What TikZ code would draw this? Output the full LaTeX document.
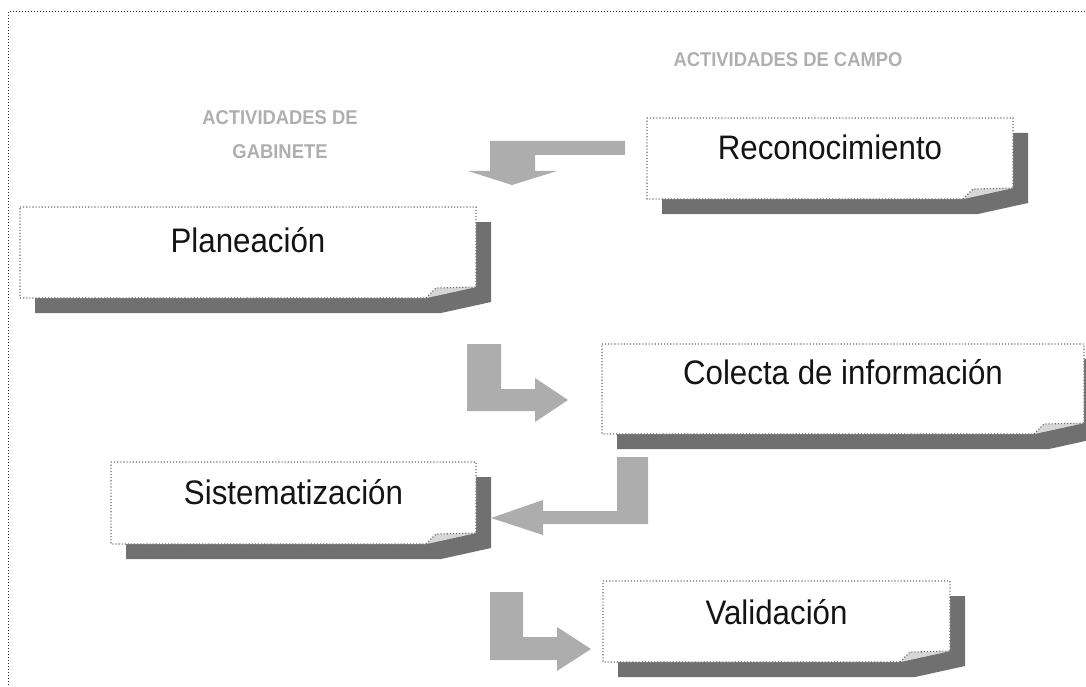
\documentclass[tikz,border=0pt]{standalone}
\usepackage{fontspec}
\setmainfont{Liberation Sans}[FakeStretch=0.92]
\usepackage{tikz}
\usetikzlibrary{calc}
\definecolor{sombra}{RGB}{112,112,112}
\definecolor{flechagris}{RGB}{173,173,173}
\definecolor{titulogris}{RGB}{175,175,175}
\definecolor{dobles}{RGB}{215,215,215}
\definecolor{borde}{RGB}{105,105,105}
\definecolor{letra}{RGB}{20,20,20}

\tikzset{
	sombrabox/.style={fill=sombra},
	hojabox/.style={fill=white,draw=borde,line width=1.1pt,dotted},
	doblez/.style={fill=dobles,draw=borde,line width=1.1pt,dotted},
	flecha/.style={fill=flechagris},
	texto/.style={text=letra,font=\fontsize{34}{38}\selectfont},
	titulo/.style={text=titulogris,font=\bfseries\fontsize{20}{34}\selectfont,align=center}
}

% #1 nombre, #2 izq, #3 arriba, #4 der, #5 abajo, #6 altura del texto, #7 texto
\newcommand{\tarjeta}[7]{%
	\fill[sombrabox] (#2+15,#3+15) -- (#4+15,#3+15) -- (#4+15,#5+4) -- (#4-35,#5+15) -- (#2+15,#5+15) -- cycle;
	\draw[hojabox] (#2,#3) -- (#4,#3) -- (#4,#5-11) -- (#4-50,#5) -- (#2,#5) -- cycle;
	\draw[doblez] (#4-50,#5) -- (#4-40,#5-10) -- (#4,#5-11);
	\node[texto] (#1) at ({(#2+#4)/2},#6) {#7};
}

\begin{document}
\begin{tikzpicture}[x=1pt,y=-1pt]
	\useasboundingbox (0,0) rectangle (1086,687);
	\draw[black!85,line width=1pt,dotted] (8,700) -- (8,12) -- (1100,12);
	
	\node[titulo] (campo) at (788,60) {ACTIVIDADES DE CAMPO};
	\node[titulo] (gabinete) at (280,135) {ACTIVIDADES DE\\GABINETE};
	
	\tarjeta{recon}{647}{118}{1013}{199}{147}{Reconocimiento}
	\tarjeta{plan}{20}{207}{476}{298}{240}{Planeación}
	\tarjeta{colecta}{602}{344}{1084}{434}{372}{Colecta de información}
	\tarjeta{sistem}{111}{462}{476}{544}{492}{Sistematización}
	\tarjeta{valid}{603}{581}{950}{662}{612}{Validación}
	
	\fill[flecha] (625,141) -- (490,141) -- (490,171) -- (468,171) -- (512,185) -- (557,171) -- (535,171) -- (535,155) -- (625,155) -- cycle;
	\fill[flecha] (467,344) -- (501,344) -- (501,389) -- (535,389) -- (535,378) -- (568,400) -- (535,422) -- (535,411) -- (467,411) -- cycle;
	\fill[flecha] (648,457) -- (617,457) -- (617,511) -- (543,511) -- (543,500) -- (491,518) -- (543,535) -- (543,524) -- (648,524) -- cycle;
	\fill[flecha] (490,592) -- (523,592) -- (523,637) -- (557,637) -- (557,627) -- (591,649) -- (557,671) -- (557,660) -- (490,660) -- cycle;
\end{tikzpicture}
\end{document}
